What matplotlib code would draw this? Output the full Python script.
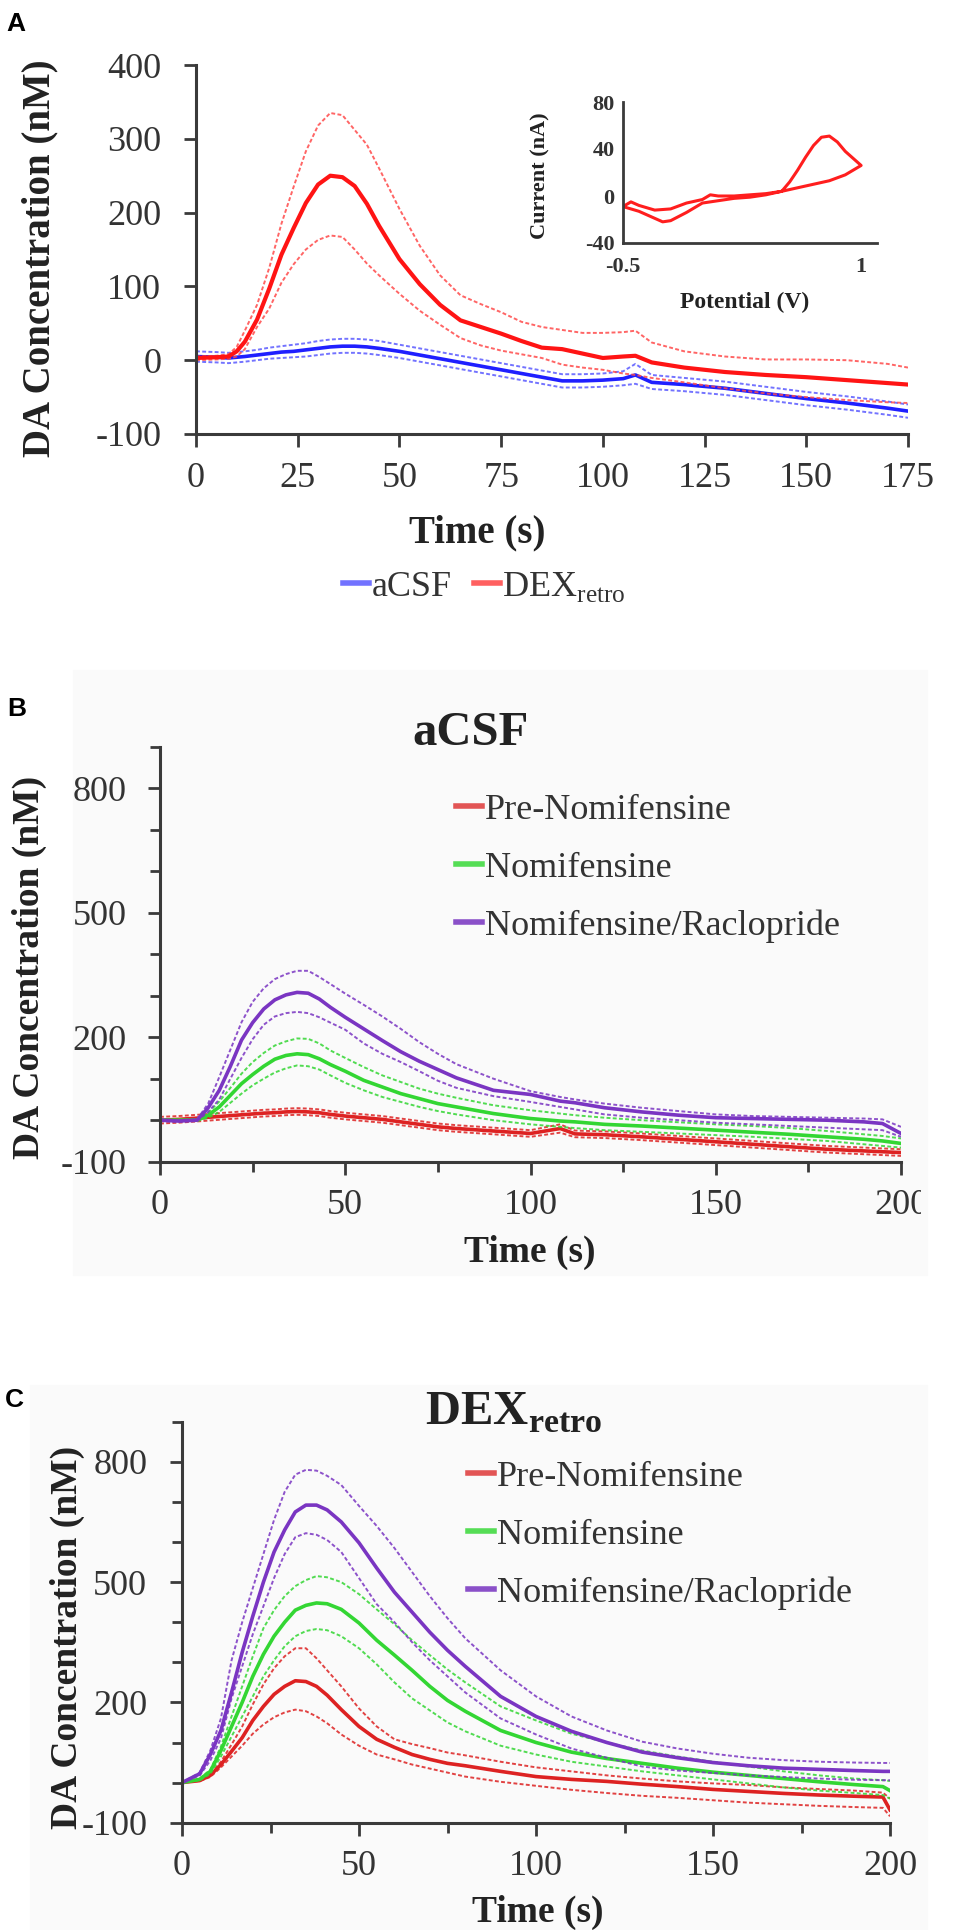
import matplotlib
matplotlib.use('Agg')
import matplotlib.pyplot as plt
from matplotlib.lines import Line2D
from matplotlib.patches import Rectangle
from matplotlib.ticker import MultipleLocator, FixedLocator
from matplotlib.transforms import Bbox

plt.rcParams['font.family'] = 'Liberation Serif'
plt.rcParams['mathtext.fontset'] = 'custom'
plt.rcParams['mathtext.rm'] = 'Liberation Serif'
plt.rcParams['mathtext.bf'] = 'Liberation Serif:bold'
plt.rcParams['axes.unicode_minus'] = False

# ---- panel A : aCSF vs DEXretro (mean and +/- SEM traces) ----
t_a = [0, 5, 8, 10, 12, 15, 18, 21, 24, 27, 30, 33, 36, 39, 42, 45, 50, 55, 60, 65,
       70, 75, 80, 85, 90, 95, 100, 105, 108, 112, 120, 130, 140, 150, 160, 170, 175]
dex_mean = [3, 4, 5, 12, 25, 55, 97, 143, 179, 213, 238, 250, 248, 236, 212, 182, 137, 103, 75, 54,
            45, 36, 26, 17, 15, 9, 3, 5, 6, -3, -10, -16, -20, -23, -27, -31, -33]
dex_hi = [5, 6, 8, 18, 40, 75, 125, 185, 235, 283, 318, 335, 332, 312, 292, 260, 205, 155, 115, 88,
          76, 65, 52, 45, 41, 37, 37, 38, 40, 24, 12, 5, 1, 1, 0, -5, -10]
dex_lo = [0, 1, 2, 5, 15, 45, 70, 105, 130, 150, 163, 169, 167, 150, 131, 115, 90, 67, 48, 30,
          20, 13, 8, 3, -6, -10, -13, -18, -20, -24, -30, -38, -45, -50, -54, -57, -58]
acsf_mean = [5, 4, 3, 4, 5, 7, 9, 11, 12, 14, 16, 18, 19, 19, 18, 16, 12, 7, 2, -3,
             -8, -13, -18, -23, -28, -28, -27, -25, -20, -30, -33, -38, -45, -52, -58, -65, -69]
acsf_hi = [12, 11, 10, 11, 12, 14, 17, 19, 21, 23, 26, 28, 29, 29, 28, 26, 21, 16, 11, 6,
           1, -4, -9, -14, -19, -19, -18, -15, -5, -20, -24, -29, -36, -43, -49, -56, -60]
acsf_lo = [-2, -3, -4, -3, -2, 0, 2, 3, 4, 5, 7, 9, 10, 10, 9, 7, 3, -2, -7, -12,
           -17, -22, -27, -32, -37, -37, -36, -34, -32, -39, -42, -47, -54, -61, -67, -74, -78]

# inset cyclic voltammogram
cv_v = [-0.5, -0.45, -0.4, -0.3, -0.2, -0.1, 0.0, 0.05, 0.1, 0.2, 0.3, 0.4, 0.5, 0.55, 0.6, 0.65,
        0.7, 0.75, 0.8, 0.85, 0.9, 0.95, 1.0,
        0.95, 0.9, 0.8, 0.7, 0.6, 0.5, 0.4, 0.3, 0.2, 0.1, 0.0, -0.1, -0.2, -0.25, -0.3, -0.4, -0.5]
cv_i = [-9, -5, -8, -12, -11, -6, -3, 1, 0, 0, 1, 2, 4, 12, 22, 33,
        43, 50, 51, 46, 38, 32, 26,
        22, 18, 13, 10, 7, 4, 1, -1, -2, -4, -6, -14, -21, -22, -19, -13, -9]

# ---- panel B : aCSF ----
t_b = [0, 5, 10, 13, 16, 19, 22, 25, 28, 31, 34, 37, 40, 43, 46, 50, 55, 60, 65, 70,
       75, 80, 90, 100, 108, 112, 120, 130, 140, 150, 160, 170, 180, 190, 195, 200]
pur_b = [0, -2, 0, 30, 72, 130, 193, 235, 268, 290, 302, 308, 306, 292, 272, 248, 220, 192, 165, 142,
         122, 102, 72, 62, 46, 42, 30, 20, 12, 6, 4, 2, 0, -4, -8, -32]
pur_b_hi = [2, 0, 2, 40, 104, 170, 236, 285, 318, 340, 352, 360, 360, 345, 328, 305, 278, 250, 220, 188,
            160, 135, 100, 70, 56, 50, 40, 30, 22, 14, 10, 8, 6, 4, 2, -16]
pur_b_lo = [-2, -4, -2, 20, 50, 100, 150, 195, 230, 250, 258, 261, 258, 248, 235, 218, 185, 160, 140, 118,
            95, 78, 58, 44, 32, 26, 14, 6, 0, -6, -10, -14, -18, -22, -24, -40]
grn_b = [0, 0, 0, 12, 32, 60, 88, 110, 130, 147, 156, 160, 158, 148, 134, 118, 96, 80, 64, 52,
         40, 32, 16, 4, -2, -4, -10, -14, -19, -24, -29, -34, -40, -46, -50, -56]
grn_b_hi = [2, 2, 2, 18, 45, 78, 112, 140, 162, 180, 190, 197, 196, 185, 168, 150, 128, 108, 92, 76,
            64, 54, 36, 24, 16, 12, 6, 0, -5, -10, -14, -19, -26, -34, -38, -44]
grn_b_lo = [-2, -2, -2, 6, 20, 42, 64, 84, 100, 115, 125, 132, 130, 122, 108, 90, 72, 56, 44, 32,
            22, 14, 0, -10, -16, -19, -24, -28, -32, -36, -40, -45, -50, -58, -62, -66]
red_b = [0, 2, 5, 7, 9, 11, 13, 15, 17, 18, 20, 21, 20, 18, 14, 10, 6, 2, -4, -10,
         -16, -20, -26, -32, -20, -33, -35, -40, -46, -52, -58, -64, -70, -74, -76, -78]
red_b_hi = [8, 10, 13, 15, 17, 19, 21, 23, 25, 26, 28, 29, 28, 26, 22, 18, 14, 10, 4, -2,
            -8, -12, -18, -24, -10, -25, -27, -32, -38, -44, -50, -56, -62, -66, -68, -70]
red_b_lo = [-8, -6, -3, -1, 1, 3, 5, 7, 9, 10, 12, 13, 12, 10, 6, 2, -2, -6, -12, -18,
            -24, -28, -34, -40, -30, -41, -43, -48, -54, -60, -66, -72, -78, -82, -84, -86]

# ---- panel C : DEXretro ----
t_c = [0, 5, 8, 11, 14, 17, 20, 23, 26, 29, 32, 35, 38, 41, 45, 50, 55, 60, 65, 70,
       75, 80, 90, 100, 110, 120, 130, 140, 150, 160, 170, 180, 190, 198, 200]
pur_c = [0, 22, 70, 130, 225, 325, 415, 500, 575, 630, 675, 692, 692, 680, 650, 598, 535, 475, 425, 375,
         330, 290, 215, 165, 128, 100, 76, 62, 50, 42, 36, 33, 30, 28, 28]
pur_c_hi = [0, 25, 80, 160, 305, 400, 485, 570, 655, 725, 768, 780, 778, 765, 742, 690, 640, 585, 525, 465,
            410, 360, 280, 215, 165, 130, 102, 85, 72, 62, 56, 52, 50, 49, 49]
pur_c_lo = [0, 18, 55, 110, 210, 290, 370, 440, 510, 570, 612, 622, 618, 605, 575, 510, 445, 400, 350, 305,
            265, 225, 160, 120, 85, 62, 40, 30, 24, 18, 14, 10, 7, 6, 6]
grn_c = [0, 8, 28, 80, 140, 200, 265, 320, 365, 400, 430, 442, 448, 446, 432, 398, 355, 318, 280, 240,
         205, 178, 130, 100, 76, 60, 48, 36, 26, 18, 10, 2, -5, -10, -20]
grn_c_hi = [0, 10, 32, 90, 165, 240, 315, 385, 430, 465, 490, 505, 515, 512, 500, 470, 432, 395, 355, 318,
            282, 250, 190, 155, 122, 100, 80, 65, 52, 40, 28, 18, 10, 6, 4]
grn_c_lo = [0, 6, 22, 65, 115, 165, 215, 265, 305, 340, 365, 378, 383, 380, 365, 335, 295, 250, 210, 180,
            150, 128, 92, 70, 52, 40, 28, 18, 8, -2, -12, -20, -26, -31, -40]
red_c = [0, 5, 18, 45, 78, 112, 155, 190, 220, 240, 254, 252, 240, 218, 182, 140, 108, 88, 70, 58,
         48, 42, 28, 15, 8, 3, -4, -10, -17, -22, -27, -31, -34, -36, -68]
red_c_hi = [0, 6, 20, 52, 95, 140, 195, 245, 285, 315, 335, 335, 310, 280, 240, 185, 140, 108, 96, 86,
            75, 68, 52, 38, 28, 18, 10, 3, -2, -6, -12, -16, -20, -25, -40]
red_c_lo = [0, 4, 14, 38, 65, 92, 122, 145, 163, 175, 182, 178, 165, 148, 120, 92, 70, 58, 45, 35,
            25, 15, 2, -8, -18, -26, -33, -38, -44, -50, -54, -58, -61, -63, -84]

groups = ['Pre-Nomifensine', 'Nomifensine', 'Nomifensine/Raclopride']
group_colors = ['#dd2222', '#33d633', '#7a35c2']
legend_colors = ['#e25555', '#55dd55', '#8a50c8']

W, H = 955, 1930
AX_COL = '#3a3a3a'
fig = plt.figure(figsize=(W / 100, H / 100), dpi=100)


def box(x0, y0, x1, y1):
    # pixel box (from top-left) -> [left, bottom, width, height] in figure fraction
    return [x0 / W, 1 - y1 / H, (x1 - x0) / W, (y1 - y0) / H]


def fx(x):
    return x / W


def fy(y):
    return 1 - y / H


# very faint grey backgrounds behind panels B and C
for x0, y0, x1, y1 in [(73, 670, 927, 1275), (30, 1385, 927, 1930)]:
    fig.patches.append(Rectangle((fx(x0), fy(y1)), (x1 - x0) / W, (y1 - y0) / H,
                                 transform=fig.transFigure, color='#fafafa', zorder=-10))


def style(ax, ypad, xpad=10, fs=26):
    for s in ['top', 'right']:
        ax.spines[s].set_visible(False)
    for s in ['left', 'bottom']:
        ax.spines[s].set_color(AX_COL)
        ax.spines[s].set_linewidth(2.2)
    ax.set_facecolor('none')
    ax.tick_params(which='both', direction='out', color=AX_COL, width=2, labelsize=fs,
                   labelcolor='#333333')
    ax.tick_params(which='major', length=9)
    ax.tick_params(which='minor', length=7)
    ax.tick_params(axis='y', pad=ypad)
    ax.tick_params(axis='x', pad=xpad)


def trace(ax, t, mean, hi, lo, color, lw=2.6, band_color=None):
    bc = band_color or color
    ax.plot(t, hi, color=bc, lw=1.4, ls=(0, (2, 1.2)), alpha=0.85)
    ax.plot(t, lo, color=bc, lw=1.4, ls=(0, (2, 1.2)), alpha=0.85)
    ax.plot(t, mean, color=color, lw=lw)


# ================= Panel A =================
axA = fig.add_axes(box(196, 65, 908, 434))
trace(axA, t_a, acsf_mean, acsf_hi, acsf_lo, '#1f1fff', band_color='#5a5aff')
trace(axA, t_a, dex_mean, dex_hi, dex_lo, '#ff1414', lw=3, band_color='#ff4a4a')
axA.set_xlim(0, 175)
axA.set_ylim(-100, 400)
axA.xaxis.set_major_locator(MultipleLocator(25))
axA.yaxis.set_major_locator(MultipleLocator(100))
style(axA, ypad=16, xpad=11)

fig.text(fx(40), fy(258), 'DA Concentration (nM)', rotation=90, ha='center', va='center',
         fontsize=28, fontweight='bold', color='#222222')
fig.text(fx(477), fy(533), 'Time (s)', ha='center', va='center', fontsize=28,
         fontweight='bold', color='#222222')

leg_handles = [Line2D([], [], color='#7272ff', lw=4), Line2D([], [], color='#ff6060', lw=4)]
axA.legend(leg_handles, ['aCSF', r'DEX$_{\mathregular{retro}}$'], ncol=2, frameon=False,
           loc='center left', bbox_to_anchor=(fx(343), fy(587)), bbox_transform=fig.transFigure,
           fontsize=26, handlelength=0.72, handletextpad=0.08, columnspacing=0.6,
           borderpad=0, borderaxespad=0, labelcolor='#333333')

# inset CV
axI = fig.add_axes(box(623, 102, 877, 243))
axI.plot(cv_v, cv_i, color='#ff1e1e', lw=2.2)
axI.set_xlim(-0.5, 1.1)
axI.set_ylim(-40, 80)
axI.set_xticks([-0.5, 1])
axI.set_xticklabels(['-0.5', '1'])
axI.set_yticks([-40, 0, 40, 80])
for s in ['top', 'right']:
    axI.spines[s].set_visible(False)
for s in ['left', 'bottom']:
    axI.spines[s].set_color(AX_COL)
    axI.spines[s].set_linewidth(2)
axI.set_facecolor('none')
axI.tick_params(length=0, labelsize=16, labelcolor='#333333')
axI.tick_params(axis='y', pad=6)
axI.tick_params(axis='x', pad=10)
for lab in axI.get_xticklabels() + axI.get_yticklabels():
    lab.set_fontweight('bold')
fig.text(fx(540), fy(176), 'Current (nA)', rotation=90, ha='center', va='center',
         fontsize=16, fontweight='bold', color='#222222')
fig.text(fx(745), fy(302), 'Potential (V)', ha='center', va='center',
         fontsize=17, fontweight='bold', color='#222222')

# ================= Panels B and C =================
panel_bc = [
    (box(160, 746.7, 901, 1161.7), t_b,
     [(red_b, red_b_hi, red_b_lo), (grn_b, grn_b_hi, grn_b_lo), (pur_b, pur_b_hi, pur_b_lo)],
     15, (456, 868)),
    (box(182, 1421.7, 890, 1822.7), t_c,
     [(red_c, red_c_hi, red_c_lo), (grn_c, grn_c_hi, grn_c_lo), (pur_c, pur_c_hi, pur_c_lo)],
     16, (468, 1535)),
]
axes_bc = []
for rect, t, series, ypad, legpos in panel_bc:
    ax = fig.add_axes(rect)
    ax.set_zorder(2)
    for (m, hi, lo), col in zip(series, group_colors):
        trace(ax, t, m, hi, lo, col, lw=2.6)
    ax.set_xlim(0, 200)
    ax.set_ylim(-100, 900)
    ax.yaxis.set_major_locator(FixedLocator([-100, 200, 500, 800]))
    ax.yaxis.set_minor_locator(MultipleLocator(100))
    ax.xaxis.set_major_locator(MultipleLocator(50))
    ax.xaxis.set_minor_locator(MultipleLocator(25))
    style(ax, ypad=ypad, xpad=11)
    handles = [Line2D([], [], color=c, lw=4) for c in legend_colors]
    ax.legend(handles, groups, frameon=False, loc='center left',
              bbox_to_anchor=(fx(legpos[0]), fy(legpos[1])), bbox_transform=fig.transFigure,
              fontsize=26, handlelength=0.72, handletextpad=0.08, labelspacing=0.68,
              borderpad=0, borderaxespad=0, labelcolor='#333333')
    axes_bc.append(ax)

# the "200" label of panel B is cut by the image edge in the original
fig.canvas.draw()
for lab in axes_bc[0].get_xticklabels():
    lab.set_clip_box(Bbox([[0, 0], [921, H]]))
    lab.set_clip_on(True)

# axis labels B
fig.text(fx(29), fy(967), 'DA Concentration (nM)', rotation=90, ha='center', va='center',
         fontsize=27, fontweight='bold', color='#222222')
fig.text(fx(530), fy(1252), 'Time (s)', ha='center', va='center', fontsize=27,
         fontweight='bold', color='#222222')
fig.text(fx(471), fy(745), 'aCSF', ha='center', va='baseline', fontsize=35,
         fontweight='bold', color='#222222')

# axis labels C
fig.text(fx(67), fy(1637), 'DA Concentration (nM)', rotation=90, ha='center', va='center',
         fontsize=27, fontweight='bold', color='#222222')
fig.text(fx(538), fy(1912), 'Time (s)', ha='center', va='center', fontsize=27,
         fontweight='bold', color='#222222')
fig.text(fx(425), fy(1425), r'DEX$_{\mathbf{retro}}$', ha='left', va='baseline', fontsize=35,
         fontweight='bold', color='#222222')

# panel letters
for letter, x, y in [('A', 6, 12), ('B', 7, 697), ('C', 5, 1388)]:
    fig.text(fx(x), fy(y), letter, ha='left', va='top', fontsize=19, fontweight='bold',
             family='Liberation Sans', color='black')

fig.savefig('out.png', dpi=100)
